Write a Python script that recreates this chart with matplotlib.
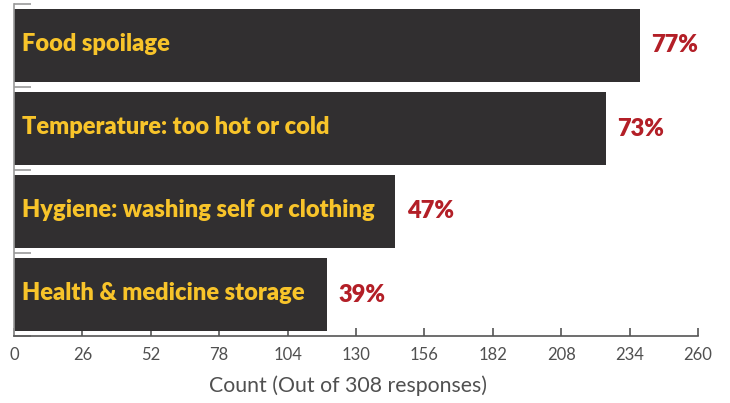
import matplotlib.pyplot as plt
import numpy as np

categories = ["Food spoilage", "Temperature: too hot or cold",
              "Hygiene: washing self or clothing", "Health & medicine storage"]
counts = [238, 225, 145, 119]
percents = ["77%", "73%", "47%", "39%"]
total = 308

bar_color = "#312f30"
label_color = "#f8c42a"
pct_color = "#b31f27"

fig = plt.figure(figsize=(7.3, 4.03), dpi=100)
ax = fig.add_axes([14 / 730, 1 - 336 / 403, 684 / 730, 332 / 403])

y = np.arange(len(categories))
ax.barh(y, counts, height=0.89, color=bar_color, zorder=2)
ax.set_ylim(len(categories) - 0.5, -0.5)
ax.set_xlim(0, 260)

for i, (name, c, p) in enumerate(zip(categories, counts, percents)):
    ax.annotate(name, (0, i), xytext=(6, 1), textcoords="offset points",
                va="center", ha="left", color=label_color,
                fontsize=17, fontweight="heavy", family="Lato")
    ax.annotate(p, (c, i), xytext=(8, 0), textcoords="offset points",
                va="center", ha="left", color=pct_color,
                fontsize=17, fontweight="heavy", family="Lato")

ax.set_xticks(np.arange(0, 261, 26))
ax.set_yticks(np.arange(-0.5, len(categories)), labels=[])
ax.tick_params(axis="y", direction="in", length=12, color="#999999", width=1.2)
ax.tick_params(axis="x", direction="in", length=6, color="#555555", width=1.2,
               labelsize=12, labelcolor="#505050", pad=8)
for lab in ax.get_xticklabels():
    lab.set_family("Lato")

for side in ["top", "right"]:
    ax.spines[side].set_visible(False)
ax.spines["left"].set_color("#999999")
ax.spines["left"].set_linewidth(1.2)
ax.spines["bottom"].set_color("#555555")
ax.spines["bottom"].set_linewidth(1.2)

ax.set_xlabel(f"Count (Out of {total} responses)", fontsize=15.3, color="#505050",
              family="Lato", labelpad=9)
ax.xaxis.label.set_x(0.488)

fig.savefig("out.png", dpi=100)
